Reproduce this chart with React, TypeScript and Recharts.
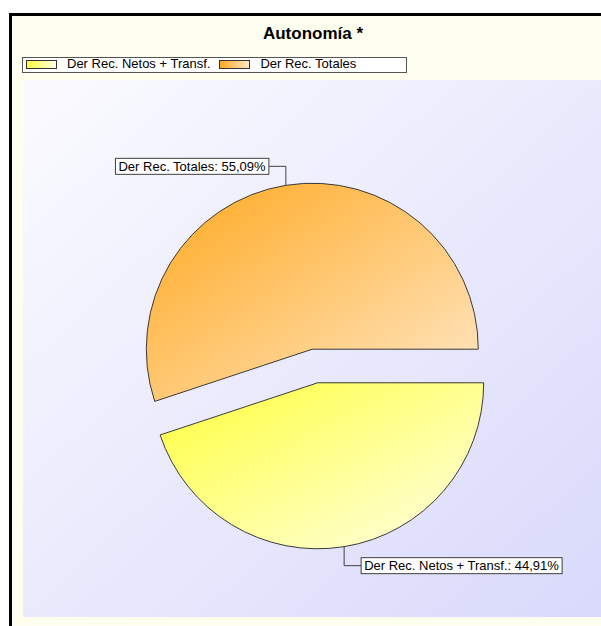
import React from 'react';
import { PieChart, Pie, Cell } from 'recharts';

const categories = ['Der Rec. Netos + Transf.', 'Der Rec. Totales'];
const values = [44.91, 55.09];
const gradFrom = ['#FFFF3C', '#FFA81E'];
const gradTo = ['#FFFFE6', '#FFE8C8'];
const title = 'Autonomía *';

const data = categories.map((name, i) => ({ name, value: values[i] }));

const CX = 315;
const CY = 366;
const R = 166;
const EXPLODE = 17;
const START = 360;
const END = 0;
const RAD = Math.PI / 180;
const FONT = "'Liberation Sans', Arial, sans-serif";
const LABEL_SIZE = 13;

const total = values.reduce((a, b) => a + b, 0);
const midAngles: number[] = [];
{
  let cum = 0;
  values.forEach((v) => {
    midAngles.push(START + (END - START) * (cum + v / 2) / total);
    cum += v;
  });
}
const centers = midAngles.map((m) => ({
  x: CX + EXPLODE * Math.cos(m * RAD),
  y: CY - EXPLODE * Math.sin(m * RAD),
}));

let ctx: CanvasRenderingContext2D | null = null;
function measure(text: string): number {
  try {
    if (!ctx) {
      const c = document.createElement('canvas');
      ctx = c.getContext('2d');
    }
    if (ctx) {
      ctx.font = `${LABEL_SIZE}px ${FONT}`;
      return ctx.measureText(text).width;
    }
  } catch (e) {}
  return text.length * 6.5;
}

const fmt = (v: number) => v.toFixed(2).replace('.', ',') + '%';

function makeLabel(shown: number) {
  return (props: any) => {
    if (props.index !== shown) return null;
    const c = centers[shown];
    const mid = props.midAngle ?? midAngles[shown];
    const r = props.outerRadius ?? R;
    const px = c.x + r * Math.cos(mid * RAD);
    const py = c.y - r * Math.sin(mid * RAD);
    const vs = Math.sin(mid * RAD) > 0 ? -1 : 1;
    const ey = py + vs * 19;
    const hs = Math.cos(mid * RAD) >= 0 ? 1 : -1;
    const bx = px + hs * 17;
    const text = `${props.name}: ${fmt(props.value)}`;
    const w = measure(text) + 6;
    const h = 16;
    const rx = hs > 0 ? bx : bx - w;
    return (
      <g>
        <polyline
          points={`${px},${py} ${px},${ey} ${bx},${ey}`}
          fill="none"
          stroke="#404040"
          strokeWidth={1}
        />
        <rect x={rx} y={ey - h / 2} width={w} height={h} fill="#FFFFFF" stroke="#404040" strokeWidth={1} />
        <text x={rx + 3} y={ey + 4.5} fontFamily={FONT} fontSize={LABEL_SIZE} fill="#000">
          {text}
        </text>
      </g>
    );
  };
}

export default function App() {
  return (
    <div
      style={{
        position: 'relative',
        width: 601,
        height: 626,
        overflow: 'hidden',
        background: '#FFFFFF',
        fontFamily: FONT,
      }}
    >
      <style>{`body{margin:0}`}</style>
      <div
        style={{
          position: 'absolute',
          left: 9,
          top: 13,
          width: 700,
          height: 700,
          border: '3px solid #000',
          background: '#FFFFF0',
          boxSizing: 'border-box',
        }}
      />
      <div
        style={{
          position: 'absolute',
          left: 23,
          top: 80,
          width: 578,
          height: 537,
          background: 'linear-gradient(to bottom right, #FBFBFF, #D9D9FB)',
        }}
      />
      <div
        style={{
          position: 'absolute',
          left: 0,
          top: 25,
          width: 626,
          textAlign: 'center',
          fontSize: 17,
          lineHeight: '17px',
          fontWeight: 'bold',
          color: '#000',
        }}
      >
        {title}
      </div>
      <div
        style={{
          position: 'absolute',
          left: 22,
          top: 57,
          width: 385,
          height: 16,
          border: '1px solid #555',
          background: '#FFFFFF',
          boxSizing: 'border-box',
        }}
      />
      <div
        style={{
          position: 'absolute',
          left: 26,
          top: 56,
          display: 'flex',
          alignItems: 'center',
          height: 16,
          fontSize: 13,
          lineHeight: '16px',
          color: '#000',
          whiteSpace: 'nowrap',
        }}
      >
        {categories.map((name, i) => (
          <div key={name} style={{ display: 'flex', alignItems: 'center', marginRight: 9 }}>
            <div
              style={{
                width: 31,
                height: 9,
                boxSizing: 'border-box',
                border: '1px solid #333',
                background: `linear-gradient(to right, ${gradFrom[i]}, ${gradTo[i]})`,
                marginRight: 10,
                marginTop: 1,
              }}
            />
            <span>{name}</span>
          </div>
        ))}
      </div>
      <div style={{ position: 'absolute', left: 0, top: 0 }}>
        <PieChart width={601} height={626} margin={{ top: 0, right: 0, bottom: 0, left: 0 }}>
          <defs>
            {categories.map((_, i) => (
              <linearGradient key={i} id={`pieGrad${i}`} x1="0" y1="0" x2="1" y2="1">
                <stop offset="0%" stopColor={gradFrom[i]} />
                <stop offset="100%" stopColor={gradTo[i]} />
              </linearGradient>
            ))}
          </defs>
          {categories.map((_, shown) => (
            <Pie
              key={shown}
              data={data}
              dataKey="value"
              nameKey="name"
              cx={centers[shown].x}
              cy={centers[shown].y}
              outerRadius={R}
              innerRadius={0}
              startAngle={START}
              endAngle={END}
              isAnimationActive={false}
              labelLine={false}
              label={makeLabel(shown)}
            >
              {data.map((d, i) => (
                <Cell
                  key={d.name}
                  fill={i === shown ? `url(#pieGrad${i})` : 'transparent'}
                  stroke={i === shown ? '#3A3A3A' : 'none'}
                  strokeWidth={1}
                />
              ))}
            </Pie>
          ))}
        </PieChart>
      </div>
    </div>
  );
}
